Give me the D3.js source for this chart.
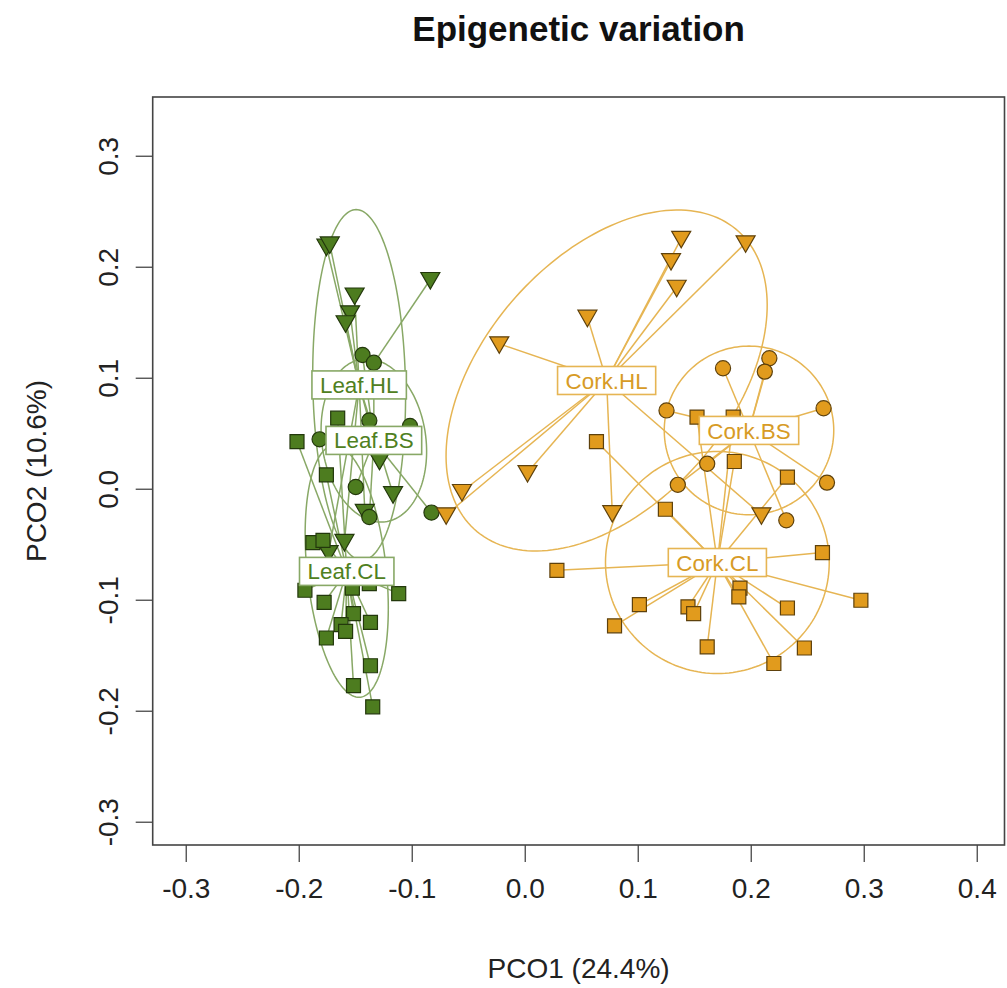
<!DOCTYPE html>
<html lang="en">
<head>
    <meta charset="UTF-8">
    <title>Epigenetic variation</title>
    <style>
        body{
            margin: 0;
            background-color: #ffffff;
        }
        svg{
            display: block;
            font-family: "Liberation Sans", Arial, sans-serif;
        }
        .title{
            font-size: 35px;
            font-weight: bold;
            fill: #111111;
        }
        .axisLabel{
            font-size: 28px;
            fill: #222222;
        }
        .tickLabel{
            font-size: 28px;
            fill: #222222;
        }
        .frame{
            fill: none;
            stroke: #444444;
            stroke-width: 1.6px;
        }
        .tick{
            stroke: #555555;
            stroke-width: 1.4px;
        }
        .groupLabel{
            font-size: 22.4px;
        }
    </style>
    <script src="https://cdn.jsdelivr.net/npm/d3@7"></script>
</head>
<body>
<script>

    // ---------------- data ----------------
    // each point is [PCO1, PCO2]
    const leafHL = [[-0.176,0.219],[-0.173,0.221],[-0.151,0.175],[-0.084,0.189],[-0.155,0.159],
        [-0.159,0.150],[-0.129,0.026],[-0.117,-0.004],[-0.142,-0.020],[-0.160,-0.047],[-0.174,-0.057]]
    const leafBS = [[-0.144,0.121],[-0.134,0.114],[-0.138,0.062],[-0.102,0.057],[-0.182,0.045],
        [-0.150,0.002],[-0.138,-0.025],[-0.083,-0.021]]
    const leafCL = [[-0.166,0.064],[-0.202,0.043],[-0.176,0.013],[-0.188,-0.048],[-0.179,-0.046],
        [-0.195,-0.091],[-0.112,-0.094],[-0.178,-0.102],[-0.152,-0.112],[-0.137,-0.120],
        [-0.163,-0.122],[-0.159,-0.128],[-0.176,-0.134],[-0.137,-0.159],[-0.152,-0.177],
        [-0.135,-0.196],[-0.153,-0.089],[-0.138,-0.085]]
    const corkHL = [[0.138,0.226],[0.195,0.222],[0.129,0.206],[0.134,0.182],[0.055,0.155],
        [-0.023,0.131],[0.002,0.015],[-0.056,-0.002],[-0.070,-0.023],[0.077,-0.021],[0.209,-0.023]]
    const corkBS = [[0.175,0.109],[0.216,0.118],[0.212,0.106],[0.125,0.071],[0.264,0.073],
        [0.161,0.023],[0.135,0.004],[0.267,0.006],[0.231,-0.028]]
    const corkCL = [[0.263,-0.057],[0.028,-0.073],[0.297,-0.100],[0.101,-0.104],[0.144,-0.106],
        [0.149,-0.112],[0.190,-0.089],[0.189,-0.097],[0.232,-0.107],[0.079,-0.123],
        [0.161,-0.142],[0.247,-0.143],[0.220,-0.157],[0.152,0.065],[0.184,0.065],
        [0.063,0.043],[0.185,0.025],[0.232,0.011],[0.124,-0.018]]

    const groupNames = ["Leaf.HL","Leaf.BS","Leaf.CL","Cork.HL","Cork.BS","Cork.CL"]
    const groupPoints = [leafHL, leafBS, leafCL, corkHL, corkBS, corkCL]
    // where the spider lines meet (group centres, label positions)
    const groupCentres = [[-0.147,0.094],[-0.134,0.044],[-0.158,-0.074],
        [0.072,0.098],[0.198,0.053],[0.170,-0.066]]
    // ellipse semi axes and rotation (degrees) in data units
    const ellipseA = [0.041, 0.046, 0.035, 0.178, 0.075, 0.099]
    const ellipseB = [0.158, 0.074, 0.114, 0.110, 0.076, 0.100]
    const ellipseAngle = [1, 8, 6, 50, 0, 0]

    const xTicks = [-0.3,-0.2,-0.1,0.0,0.1,0.2,0.3,0.4]
    const yTicks = [-0.3,-0.2,-0.1,0.0,0.1,0.2,0.3]

    // ---------------- styles ----------------
    const palette = {
        Leaf: {fill: "#4d7c1f", edge: "#23380c", line: "#88a866", text: "#4f8021"},
        Cork: {fill: "#e19b1d", edge: "#5e410c", line: "#e6b553", text: "#d79b26"}
    }
    const shapeOf = {HL: "triangle", BS: "circle", CL: "square"}

    const width = 1007
    const height = 988
    const plot = {left: 152.7, right: 1004.5, top: 97, bottom: 845}

    const svg = d3.select("body").append("svg")
        .attr("width", width)
        .attr("height", height)
        .attr("viewBox", `0,0,${width},${height}`)

    const x = d3.scaleLinear().domain([-0.3297, 0.4241]).range([plot.left, plot.right])
    const y = d3.scaleLinear().domain([-0.3205, 0.3534]).range([plot.bottom, plot.top])

    /* ------------- title and axis labels ----------------- */
    const midX = (plot.left + plot.right) / 2
    svg.append("text").attr("class", "title")
        .attr("x", midX).attr("y", 41)
        .attr("text-anchor", "middle")
        .text("Epigenetic variation")

    svg.append("text").attr("class", "axisLabel")
        .attr("x", midX).attr("y", 978)
        .attr("text-anchor", "middle")
        .text("PCO1 (24.4%)")

    svg.append("text").attr("class", "axisLabel")
        .attr("text-anchor", "middle")
        .attr("transform", `translate(46,${(plot.top + plot.bottom) / 2}) rotate(-90)`)
        .text("PCO2 (10.6%)")

    /* ------------- axes: ticks and labels ----------------- */
    // plain hyphen for negatives, like the original
    const fmt = d => (Math.abs(d) < 1e-9 ? 0 : d).toFixed(1)
    const xAxis = svg.append("g")
    xAxis.selectAll("line").data(xTicks).enter().append("line")
        .attr("class", "tick")
        .attr("x1", d => x(d)).attr("x2", d => x(d))
        .attr("y1", plot.bottom).attr("y2", plot.bottom + 17)
    xAxis.selectAll("text").data(xTicks).enter().append("text")
        .attr("class", "tickLabel")
        .attr("x", d => x(d)).attr("y", 898)
        .attr("text-anchor", "middle")
        .text(fmt)

    const yAxis = svg.append("g")
    yAxis.selectAll("line").data(yTicks).enter().append("line")
        .attr("class", "tick")
        .attr("x1", plot.left).attr("x2", plot.left - 17)
        .attr("y1", d => y(d)).attr("y2", d => y(d))
    yAxis.selectAll("text").data(yTicks).enter().append("text")
        .attr("class", "tickLabel")
        .attr("text-anchor", "middle")
        .attr("transform", d => `translate(118,${y(d)}) rotate(-90)`)
        .text(fmt)

    svg.append("rect").attr("class", "frame")
        .attr("x", plot.left).attr("y", plot.top)
        .attr("width", plot.right - plot.left)
        .attr("height", plot.bottom - plot.top)

    /* ------------- groups ----------------- */
    const groups = groupNames.map((name, i) => ({
        name: name,
        tissue: name.split(".")[0],
        shape: shapeOf[name.split(".")[1]],
        points: groupPoints[i],
        centre: groupCentres[i],
        a: ellipseA[i], b: ellipseB[i], angle: ellipseAngle[i]
    }))

    const Marks = svg.append("g")

    // ellipses
    const ellipseLine = d3.line().x(d => x(d[0])).y(d => y(d[1])).curve(d3.curveLinearClosed)
    const ellipsePath = g => {
        const th = g.angle * Math.PI / 180
        return ellipseLine(d3.range(0, 2 * Math.PI, Math.PI / 90).map(t => {
            const u = g.a * Math.cos(t), v = g.b * Math.sin(t)
            return [g.centre[0] + u * Math.cos(th) - v * Math.sin(th),
                    g.centre[1] + u * Math.sin(th) + v * Math.cos(th)]
        }))
    }
    Marks.append("g").selectAll("path").data(groups).enter().append("path")
        .attr("d", ellipsePath)
        .attr("fill", "none")
        .attr("stroke", g => palette[g.tissue].line)
        .attr("stroke-width", 1.5)

    // spider lines
    groups.forEach(g => {
        Marks.append("g").selectAll("line").data(g.points).enter().append("line")
            .attr("x1", d => x(d[0])).attr("y1", d => y(d[1]))
            .attr("x2", x(g.centre[0])).attr("y2", y(g.centre[1]))
            .attr("stroke", palette[g.tissue].line)
            .attr("stroke-width", 1.5)
    })

    // points
    const symbol = {
        circle: d3.symbol().type(d3.symbolCircle).size(180),
        square: d3.symbol().type(d3.symbolSquare).size(196)
    }
    const triangleDown = "M-9.5,-7L9.5,-7L0,9.5Z"
    groups.forEach(g => {
        Marks.append("g").selectAll("path").data(g.points).enter().append("path")
            .attr("transform", d => `translate(${x(d[0])},${y(d[1])})`)
            .attr("d", g.shape === "triangle" ? triangleDown : symbol[g.shape]())
            .attr("fill", palette[g.tissue].fill)
            .attr("stroke", palette[g.tissue].edge)
            .attr("stroke-width", 1.2)
    })

    // group labels on top
    const labels = svg.append("g").selectAll("g").data(groups).enter().append("g")
        .attr("transform", g => `translate(${x(g.centre[0])},${y(g.centre[1])})`)
    labels.append("rect")
    labels.append("text")
        .attr("class", "groupLabel")
        .attr("text-anchor", "middle")
        .attr("dy", "0.36em")
        .attr("fill", g => palette[g.tissue].text)
        .text(g => g.name)
    labels.each(function(g){
        const box = d3.select(this).select("text").node().getBBox()
        d3.select(this).select("rect")
            .attr("x", box.x - 8).attr("y", -14)
            .attr("width", box.width + 16).attr("height", 28)
            .attr("fill", "white")
            .attr("stroke", palette[g.tissue].line)
            .attr("stroke-width", 1.6)
    })

</script>
</body>
</html>
